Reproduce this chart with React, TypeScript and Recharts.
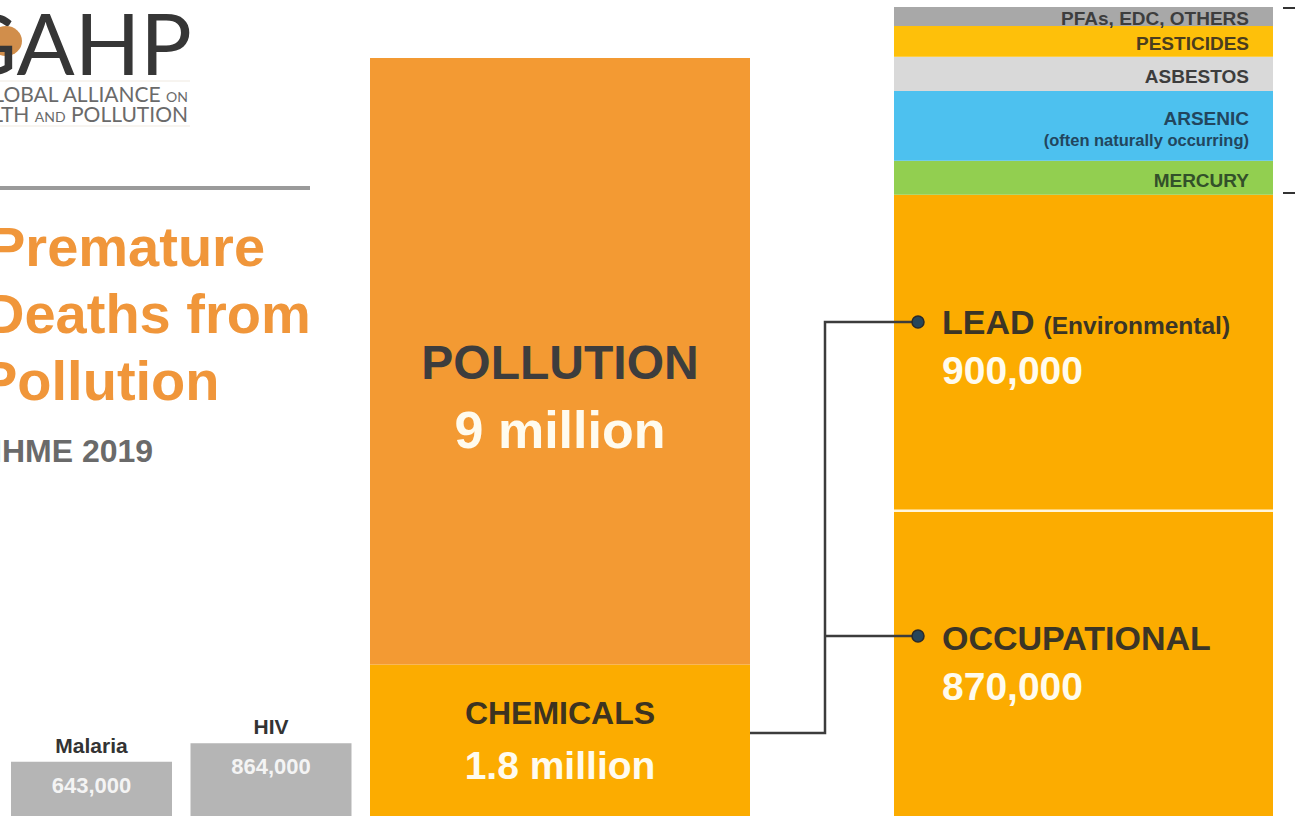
import React from 'react';
import { BarChart, Bar, XAxis, YAxis, LabelList, ReferenceLine } from 'recharts';

// ---------- data ----------
const diseaseNames = ['Malaria', 'HIV'];
const diseaseDeaths = [643000, 864000];
const diseaseData = diseaseNames.map((name, i) => ({ name, deaths: diseaseDeaths[i] }));

const pollutionTotal = 9000000;
const chemicalsTotal = 1800000;
const pollutionData = [
  { name: 'Pollution', chemicals: chemicalsTotal, otherPollution: pollutionTotal - chemicalsTotal },
];
const pollutionTitles = ['POLLUTION', 'CHEMICALS'];
const pollutionValueLabels = ['9 million', '1.8 million'];

// chemical breakdown, bottom to top
const chemicalKeys = ['occupational', 'lead', 'mercury', 'arsenic', 'asbestos', 'pesticides', 'pfas'];
const chemicalValues = [870000, 900000, 97000, 199000, 97000, 88000, 54000];
const chemicalLabels = ['OCCUPATIONAL', 'LEAD', 'MERCURY', 'ARSENIC', 'ASBESTOS', 'PESTICIDES', 'PFAs, EDC, OTHERS'];
const chemicalSubLabels = ['', '(Environmental)', '', '(often naturally occurring)', '', '', ''];
const chemicalColors = ['#FCAC00', '#FCAC00', '#92CF50', '#4DC1EF', '#D9D9D9', '#FEC00A', '#A8A8A8'];
const chemicalTextColors = ['#3b3526', '#3b3526', '#33502a', '#22465e', '#3d3d3d', '#4b3d1e', '#3d3d3d'];
const chemicalRow: Record<string, any> = { name: 'Chemicals' };
chemicalKeys.forEach((k, i) => (chemicalRow[k] = chemicalValues[i]));
const chemicalData = [chemicalRow];
const chemicalSum = chemicalValues.reduce((a, b) => a + b, 0);

const titleLines = ['Premature', 'Deaths from', 'Pollution'];
const sourceLabel = 'IHME 2019';

const FONT = '"Liberation Sans", Arial, sans-serif';
const fmt = (v: number) => v.toLocaleString('en-US');

// ---------- label renderers ----------
const DiseaseName = (props: any) => {
  const { x, y, width, index } = props;
  return (
    <text x={x + width / 2} y={y - 9} textAnchor="middle" fontFamily={FONT} fontSize={21} fontWeight="bold" fill="#333">
      {diseaseNames[index]}
    </text>
  );
};
const DiseaseValue = (props: any) => {
  const { x, y, width, index } = props;
  return (
    <text x={x + width / 2} y={y + 31} textAnchor="middle" fontFamily={FONT} fontSize={22} fontWeight="bold" fill="#f4f4f4">
      {fmt(diseaseDeaths[index])}
    </text>
  );
};

const PollutionLabel = (props: any) => {
  const { x, y, width } = props;
  const cx = x + width / 2;
  return (
    <g fontFamily={FONT} fontWeight="bold" textAnchor="middle">
      <text x={cx} y={y + 321} fontSize={48} fill="#3d3d3d">{pollutionTitles[0]}</text>
      <text x={cx} y={y + 390} fontSize={52} fill="#fffbee">{pollutionValueLabels[0]}</text>
    </g>
  );
};
const ChemicalsLabel = (props: any) => {
  const { x, y, width, height } = props;
  const cx = x + width / 2;
  const b = y + height;
  return (
    <g fontFamily={FONT} fontWeight="bold" textAnchor="middle">
      <text x={cx} y={b - 92} fontSize={32} fill="#3d3320">{pollutionTitles[1]}</text>
      <text x={cx} y={b - 37} fontSize={39} fill="#fffbee">{pollutionValueLabels[1]}</text>
    </g>
  );
};

const makeChemLabel = (i: number) => (props: any) => {
  const { x, y, width, height } = props;
  const color = chemicalTextColors[i];
  if (i <= 1) {
    return (
      <g fontFamily={FONT} fontWeight="bold">
        <text x={x + 48} y={y + 139} fontSize={34} fill={color}>
          {chemicalLabels[i]}
          {chemicalSubLabels[i] ? (
            <tspan fontSize={24.5} dx={9}>{chemicalSubLabels[i]}</tspan>
          ) : null}
        </text>
        <text x={x + 48} y={y + 189} fontSize={39} fill="#fffbee">{fmt(chemicalValues[i])}</text>
      </g>
    );
  }
  const rx = x + width - 24;
  const cy = y + height / 2;
  if (chemicalSubLabels[i]) {
    return (
      <g fontFamily={FONT} fontWeight="bold" textAnchor="end" fill={color}>
        <text x={rx} y={cy - 1} fontSize={19}>{chemicalLabels[i]}</text>
        <text x={rx} y={cy + 20} fontSize={16.5}>{chemicalSubLabels[i]}</text>
      </g>
    );
  }
  return (
    <text x={rx} y={cy + 2 + 7} textAnchor="end" fontFamily={FONT} fontWeight="bold" fontSize={19} fill={color}>
      {chemicalLabels[i]}
    </text>
  );
};

export default function App() {
  return (
    <div
      style={{
        position: 'fixed',
        left: 0,
        top: 0,
        width: 1295,
        height: 816,
        background: '#fff',
        overflow: 'hidden',
        fontFamily: FONT,
      }}
    >
      {/* Malaria & HIV */}
      <div style={{ position: 'absolute', left: 0, top: 0 }}>
        <BarChart width={364} height={816} data={diseaseData} margin={{ top: 58, right: 3, bottom: 0, left: 2 }}>
          <XAxis dataKey="name" hide />
          <YAxis type="number" domain={[0, pollutionTotal]} allowDataOverflow hide />
          <Bar dataKey="deaths" fill="#B5B5B5" barSize={161} isAnimationActive={false}>
            <LabelList dataKey="name" content={DiseaseName} />
            <LabelList dataKey="deaths" content={DiseaseValue} />
          </Bar>
        </BarChart>
      </div>

      {/* Pollution */}
      <div style={{ position: 'absolute', left: 360, top: 0 }}>
        <BarChart width={400} height={816} data={pollutionData} barCategoryGap={0} margin={{ top: 58, right: 10, bottom: 0, left: 10 }}>
          <XAxis dataKey="name" hide />
          <YAxis type="number" domain={[0, pollutionTotal]} allowDataOverflow hide />
          <Bar dataKey="chemicals" stackId="p" fill="#FCAC00" isAnimationActive={false}>
            <LabelList dataKey="chemicals" content={ChemicalsLabel} />
          </Bar>
          <Bar dataKey="otherPollution" stackId="p" fill="#F39A33" isAnimationActive={false}>
            <LabelList dataKey="otherPollution" content={PollutionLabel} />
          </Bar>
        </BarChart>
      </div>

      {/* Chemicals breakdown */}
      <div style={{ position: 'absolute', left: 880, top: 0 }}>
        <BarChart width={415} height={816} data={chemicalData} barCategoryGap={0} margin={{ top: 7, right: 22, bottom: 0, left: 14 }}>
          <XAxis dataKey="name" hide />
          <YAxis type="number" domain={[0, chemicalSum]} allowDataOverflow hide />
          {chemicalKeys.map((k, i) => (
            <Bar key={k} dataKey={k} stackId="c" fill={chemicalColors[i]} isAnimationActive={false}>
              <LabelList dataKey={k} content={makeChemLabel(i)} />
            </Bar>
          ))}
          <ReferenceLine y={chemicalValues[0]} stroke="#fff6dc" strokeWidth={2.5} ifOverflow="extendDomain" />
        </BarChart>
      </div>

      {/* decorations: logo, title, connectors */}
      <svg width={1295} height={816} style={{ position: 'absolute', left: 0, top: 0, pointerEvents: 'none' }}>
        {/* logo */}
        <ellipse cx={6} cy={41} rx={16} ry={15} fill="#c97a2c" opacity={0.85} />
        <text x={192} y={75} textAnchor="end" fontFamily="Lato, sans-serif" fontSize={86} fontWeight={400} fill="#363636">
          GAHP
        </text>
        <line x1={0} y1={81} x2={190} y2={81} stroke="#efe9e0" strokeWidth={1} />
        <text x={188} y={102} textAnchor="end" fontFamily="Lato, sans-serif" fontSize={21} fill="#6a6a6a">
          GLOBAL ALLIANCE <tspan fontSize={14}>ON</tspan>
        </text>
        <text x={188} y={122} textAnchor="end" fontFamily="Lato, sans-serif" fontSize={21} fill="#6a6a6a">
          HEALTH <tspan fontSize={14}>AND</tspan> POLLUTION
        </text>
        <line x1={0} y1={126} x2={190} y2={126} stroke="#efe9e0" strokeWidth={1} />

        <line x1={0} y1={188} x2={310} y2={188} stroke="#9a9a9a" strokeWidth={4} />

        {/* title */}
        <g fontFamily={FONT} fontWeight="bold" fontSize={56} fill="#F0963A">
          <text x={-12} y={266}>{titleLines[0]}</text>
          <text x={-16} y={333}>{titleLines[1]}</text>
          <text x={-20} y={400}>{titleLines[2]}</text>
        </g>
        <text x={-7} y={462} fontFamily={FONT} fontWeight="bold" fontSize={32} fill="#6a6a6a">
          {sourceLabel}
        </text>

        {/* connectors */}
        <path d="M750 733 H825 V322 H918 M825 636 H918" fill="none" stroke="#3c3c3c" strokeWidth={2.5} />
        <circle cx={918} cy={322} r={6} fill="#27465a" stroke="#2a2a2a" strokeWidth={1.5} />
        <circle cx={918} cy={636} r={6} fill="#27465a" stroke="#2a2a2a" strokeWidth={1.5} />

        {/* bracket ticks on the right */}
        <line x1={1283} y1={8} x2={1295} y2={8} stroke="#333" strokeWidth={2} />
        <line x1={1283} y1={193} x2={1295} y2={193} stroke="#333" strokeWidth={2} />
      </svg>
    </div>
  );
}
